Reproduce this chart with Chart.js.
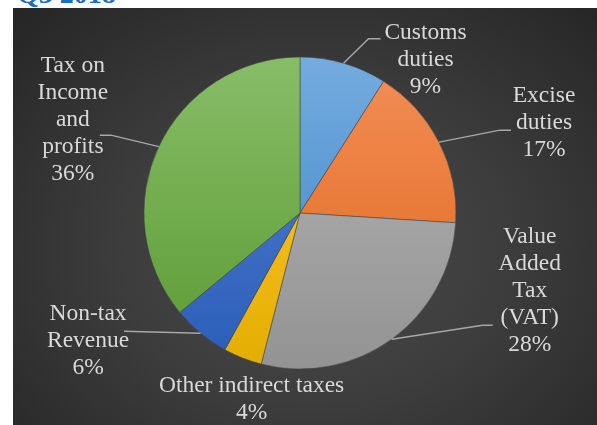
<!DOCTYPE html>
<html>
<head>
<meta charset="utf-8">
<script src="https://cdn.jsdelivr.net/npm/chart.js@4.4.0/dist/chart.umd.min.js"></script>
<style>
  html, body { margin: 0; padding: 0; background: #fff; overflow: hidden; }
  #wrap { position: relative; width: 597px; height: 425px; }
  #panel {
    position: absolute; left: 13px; top: 8px; width: 600px; height: 440px;
    background: radial-gradient(ellipse farthest-corner at 50% 55%, #4a4a4a 0%, #3d3d3d 45%, #252525 100%);
  }
  #title {
    position: absolute; left: 17px; top: -22px; line-height: 28px;
    font: bold 28px "Liberation Serif", serif; color: #1f6bbf; white-space: nowrap;
  }
  #chart { position: absolute; left: 0; top: 0; }
</style>
</head>
<body>
<div id="wrap">
  <div id="title">Q3 2018</div>
  <div id="panel"></div>
  <canvas id="chart" width="597" height="425"></canvas>
</div>
<script>
// revenue shares, Q3 2018
const labelLines = [
  ["Customs", "duties"],
  ["Excise", "duties"],
  ["Value", "Added", "Tax", "(VAT)"],
  ["Other indirect taxes"],
  ["Non-tax", "Revenue"],
  ["Tax on", "Income", "and", "profits"]
];
const categories = labelLines.map(l => l.join(" "));
const shares = [9, 17, 28, 4, 6, 36];

// light (top) / dark (bottom) fill for each slice
const lightColors = ["#74acdf", "#f28f57", "#b6b6b6", "#ffcb38", "#5283d2", "#88bd68"];
const darkColors  = ["#3a80c4", "#e0661a", "#939393", "#e3ae00", "#2a5db8", "#5a9a32"];

// label block centre relative to the slice's outer midpoint
const labelOffsets = [[82, -3], [105, -19.5], [138, -48], [9, 41], [-112.5, 8], [-86, -27]];
// leader line: elbow and end, relative to label centre (null = no leader)
const leaders = [
  [[-57, -21.5], [-45, -21.5]],
  [[-44, 7.5], [-33, 7.5]],
  [[-47, 34], [-37, 34]],
  null,
  [[36, -10], [36, -10]],
  [[38, 15.6], [27, 15.6]]
];

const RADIUS = 156;

function sliceFill(ctx) {
  const chart = ctx.chart;
  const a = chart.chartArea;
  const i = ctx.dataIndex;
  if (!a) return lightColors[i];
  const cy = (a.top + a.bottom) / 2;
  const g = chart.ctx.createLinearGradient(0, cy - RADIUS, 0, cy + RADIUS);
  g.addColorStop(0, lightColors[i]);
  g.addColorStop(1, darkColors[i]);
  return g;
}

const outsideLabels = {
  id: "outsideLabels",
  afterDatasetsDraw(chart) {
    const ctx = chart.ctx;
    const meta = chart.getDatasetMeta(0);
    ctx.save();
    meta.data.forEach((arc, i) => {
      const p = arc.getProps(["x", "y", "startAngle", "endAngle", "outerRadius"], true);
      const mid = (p.startAngle + p.endAngle) / 2;
      const ax = p.x + Math.cos(mid) * p.outerRadius;
      const ay = p.y + Math.sin(mid) * p.outerRadius;
      const lx = ax + labelOffsets[i][0];
      const ly = ay + labelOffsets[i][1];

      if (leaders[i]) {
        const [e, f] = leaders[i];
        ctx.strokeStyle = "#a8a8a8";
        ctx.lineWidth = 1.4;
        ctx.beginPath();
        ctx.moveTo(ax, ay);
        ctx.lineTo(lx + e[0], ly + e[1]);
        ctx.lineTo(lx + f[0], ly + f[1]);
        ctx.stroke();
      }

      const lines = labelLines[i].concat(shares[i] + "%");
      const lh = 27;
      ctx.fillStyle = "#d9d9d9";
      ctx.font = '23.5px "Liberation Serif", serif';
      ctx.textAlign = "center";
      ctx.textBaseline = "middle";
      lines.forEach((t, j) => {
        ctx.fillText(t, lx, ly + (j - (lines.length - 1) / 2) * lh);
      });
    });
    ctx.restore();
  }
};

new Chart(document.getElementById("chart"), {
  type: "pie",
  data: {
    labels: categories,
    datasets: [{
      data: shares,
      backgroundColor: sliceFill,
      borderColor: "rgba(70,70,70,0.7)",
      borderWidth: 0.8
    }]
  },
  options: {
    responsive: false,
    animation: false,
    radius: RADIUS,
    layout: { padding: { left: 6, right: 3, top: 4, bottom: 3 } },
    plugins: {
      legend: { display: false },
      tooltip: { enabled: false }
    }
  },
  plugins: [outsideLabels]
});
</script>
</body>
</html>
